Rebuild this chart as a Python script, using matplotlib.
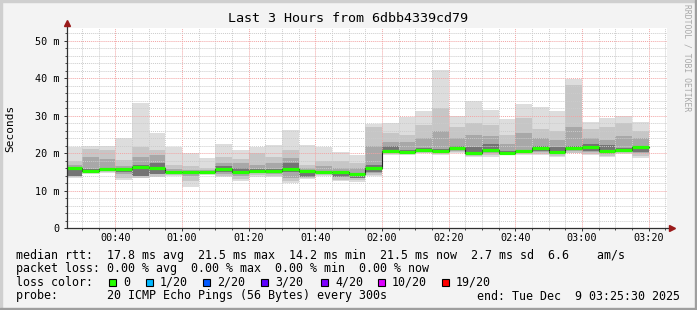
import numpy as np
import matplotlib
matplotlib.use("Agg")
import matplotlib.pyplot as plt
from matplotlib.patches import Rectangle

"""
SmokePing style latency graph: smoke bands of 20 pings per 5 min step,
median drawn on top in loss colour.
"""

W, H = 697, 310
MONO = "DejaVu Sans Mono"

# time axis, seconds since midnight
t_start_s = 25 * 60 + 30            # 00:25:30
t_end_s = 3 * 3600 + 25 * 60 + 30   # 03:25:30
step_s = 300
bar_ends_s = 1800 + step_s * np.arange(35)   # 00:30 ... 03:20

# rtt values (ms) read per 5 min step
ping_max = [21.8, 21.9, 21.9, 24.0, 33.5, 25.3, 21.8, 20.0, 18.8, 22.5, 20.9, 21.8,
            22.2, 26.2, 22.2, 21.8, 20.3, 19.5, 27.8, 28.0, 29.8, 31.4, 42.2, 30.0,
            34.0, 31.5, 29.1, 33.1, 32.4, 31.3, 39.8, 28.3, 29.3, 29.9, 28.4]
ping_p90 = [18.0, 21.1, 20.9, 18.2, 21.8, 20.9, 17.0, 16.5, 16.0, 19.1, 18.5, 20.0,
            19.0, 21.0, 17.0, 18.0, 18.0, 17.5, 27.0, 25.5, 25.0, 27.5, 32.2, 27.0,
            28.0, 27.5, 25.0, 29.5, 26.5, 26.0, 38.2, 26.5, 27.0, 28.0, 26.0]
ping_p75 = [16.8, 19.0, 18.5, 16.5, 19.0, 19.5, 15.8, 15.6, 15.5, 17.5, 17.5, 17.0,
            17.5, 18.8, 16.2, 16.5, 16.0, 16.0, 22.0, 23.0, 23.0, 24.0, 26.0, 24.0,
            25.0, 24.5, 22.5, 25.5, 24.0, 23.5, 27.0, 24.0, 23.5, 24.5, 24.0]
ping_p60 = [16.2, 15.8, 16.0, 16.2, 17.0, 17.5, 15.2, 15.4, 15.4, 16.5, 16.0, 15.8,
            15.8, 17.5, 15.6, 15.2, 15.2, 14.6, 17.0, 22.0, 21.0, 21.5, 21.2, 22.0,
            21.8, 22.5, 20.6, 21.0, 22.0, 21.8, 22.0, 22.5, 22.3, 21.5, 22.0]
median = [16.2, 15.4, 15.7, 15.8, 16.4, 16.2, 14.9, 15.1, 15.1, 15.7, 14.9, 15.4,
          15.3, 15.8, 15.4, 14.9, 14.9, 14.4, 16.2, 20.7, 20.4, 20.9, 20.7, 21.3,
          20.2, 20.9, 20.2, 20.6, 21.5, 20.4, 21.3, 21.6, 20.6, 20.9, 21.6]
ping_p40 = [14.0, 15.0, 15.3, 15.0, 14.0, 14.5, 14.6, 14.5, 14.9, 15.0, 14.5, 15.0,
            14.8, 15.0, 13.8, 14.6, 13.8, 13.5, 15.0, 20.3, 20.1, 20.6, 20.4, 20.9,
            20.0, 20.3, 20.0, 20.3, 20.5, 19.9, 20.8, 20.5, 20.2, 20.6, 20.4]
ping_p25 = [14.3, 15.0, 15.2, 14.5, 14.0, 14.5, 14.5, 14.0, 14.7, 14.5, 14.0, 14.7,
            14.5, 13.5, 14.0, 14.5, 13.8, 13.5, 14.8, 20.2, 20.0, 20.5, 20.2, 20.7,
            19.8, 20.0, 19.9, 20.1, 20.3, 19.8, 20.6, 20.3, 19.9, 20.4, 20.0]
ping_p10 = [13.8, 14.8, 14.9, 13.5, 13.5, 13.8, 14.2, 12.5, 14.4, 14.0, 13.2, 14.2,
            14.0, 12.5, 13.4, 14.2, 13.0, 12.8, 14.2, 19.8, 19.7, 20.2, 19.8, 20.4,
            19.4, 19.5, 19.7, 19.8, 19.8, 19.4, 20.2, 19.8, 19.4, 20.0, 19.2]
ping_min = [13.3, 14.6, 14.7, 12.9, 13.3, 13.6, 14.0, 11.1, 14.2, 13.6, 12.7, 13.8,
            13.6, 12.0, 13.1, 14.0, 12.6, 12.4, 13.9, 19.5, 19.5, 20.0, 19.5, 20.2,
            19.1, 19.1, 19.5, 19.5, 19.5, 19.1, 20.0, 19.5, 19.1, 19.8, 18.7]

x_tick_labels = ["00:40", "01:00", "01:20", "01:40", "02:00", "02:20", "02:40", "03:00", "03:20"]
y_ticks = [0, 10, 20, 30, 40, 50]
y_tick_labels = ["0", "10 m", "20 m", "30 m", "40 m", "50 m"]

title = "Last 3 Hours from 6dbb4339cd79"
legend_rtt = "median rtt:  17.8 ms avg  21.5 ms max  14.2 ms min  21.5 ms now  2.7 ms sd  6.6    am/s"
legend_loss = "packet loss: 0.00 % avg  0.00 % max  0.00 % min  0.00 % now"
legend_probe = "probe:       20 ICMP Echo Pings (56 Bytes) every 300s"
legend_end = "end: Tue Dec  9 03:25:30 2025"
loss_labels = ["0", "1/20", "2/20", "3/20", "4/20", "10/20", "19/20"]
loss_colors = ["#26ff00", "#00b8ff", "#0059ff", "#5e00ff", "#7e00ff", "#dd00ff", "#ff0000"]
loss_box_x = [109, 146, 203, 261, 321, 378, 442]

fig = plt.figure(figsize=(W / 100, H / 100), dpi=100, facecolor="#f3f3f3")

# 3d-ish canvas border
bg = fig.add_axes([0, 0, 1, 1])
bg.set_xlim(0, W)
bg.set_ylim(H, 0)
bg.axis("off")
bg.add_patch(Rectangle((0, 0), W, 2, color="#cfcfcf"))
bg.add_patch(Rectangle((0, 0), 2, H, color="#cfcfcf"))
bg.add_patch(Rectangle((0, H - 2), W, 2, color="#9e9e9e"))
bg.add_patch(Rectangle((W - 2, 0), 2, H, color="#9e9e9e"))

ax = fig.add_axes([67 / W, (H - 228.3) / H, 600 / W, 200 / H])
ax.set_facecolor("white")
ax.set_xlim(t_start_s, t_end_s)
ax.set_ylim(0, 200 / 3.75)

starts = np.maximum(bar_ends_s - step_s, t_start_s)
widths = bar_ends_s - starts

# smoke, outer to inner
for lo, hi, col in [(ping_min, ping_max, "#dddddd"),
                    (ping_p10, ping_p90, "#c6c6c6"),
                    (ping_p25, ping_p75, "#a8a8a8"),
                    (ping_p40, ping_p60, "#747474")]:
    lo = np.array(lo)
    hi = np.array(hi)
    ax.bar(starts, hi - lo, bottom=lo, width=widths, align="edge",
           color=col, linewidth=0, zorder=1)

# grid over the smoke
ax.set_xticks(2400 + 1200 * np.arange(len(x_tick_labels)))
ax.set_xticklabels(x_tick_labels)
ax.set_xticks(np.arange(1800, t_end_s, step_s), minor=True)
ax.set_yticks(y_ticks)
ax.set_yticklabels(y_tick_labels)
ax.set_yticks(np.arange(2, 53, 2), minor=True)
ax.grid(True, which="minor", color="#cccccc", linestyle=(0, (1, 1)), linewidth=0.7, zorder=2)
ax.grid(True, which="major", color="#f2a4a4", linestyle=(0, (1, 1)), linewidth=0.7, zorder=2)
ax.set_axisbelow(False)

# median: black step line plus loss coloured band
med = np.array(median)
ax.step(np.append(starts, bar_ends_s[-1]), np.append(med, med[-1]), where="post",
        color="#202020", linewidth=0.8, zorder=3)
ax.hlines(med, starts, bar_ends_s, color=loss_colors[0], linewidth=2.3, zorder=4)

for s in ax.spines.values():
    s.set_visible(False)
ax.plot([0, 0], [0, 1.025], transform=ax.transAxes, color="#303030", lw=0.9, clip_on=False, zorder=5)
ax.plot([0, 1.008], [0, 0], transform=ax.transAxes, color="#303030", lw=0.9, clip_on=False, zorder=5)
ax.plot([0], [1.025], marker="^", ms=4, color="#9a1a1a", transform=ax.transAxes, clip_on=False, zorder=6)
ax.plot([1.008], [0], marker=">", ms=4, color="#9a1a1a", transform=ax.transAxes, clip_on=False, zorder=6)

ax.tick_params(axis="y", which="major", length=2.2, width=0.7, color="#303030", pad=3, labelsize=7.3)
ax.tick_params(axis="x", which="major", length=2.2, width=0.7, color="#303030", pad=1.5, labelsize=7.3)
ax.tick_params(which="minor", length=1.5, width=0.6, color="#303030")
for lab in ax.get_xticklabels() + ax.get_yticklabels():
    lab.set_family(MONO)

fig.text(10 / W, 1 - 128 / H, "Seconds", rotation=90, ha="center", va="center",
         family=MONO, fontsize=8)
fig.text(0.5, 1 - 19 / H, title, ha="center", va="center", family=MONO, fontsize=9.6)
fig.text(687 / W, 1 - 58 / H, "RRDTOOL / TOBI OETIKER", rotation=270, ha="center",
         va="center", family=MONO, fontsize=5.8, color="#a8a8a8")

# legend block
fs = 8.4
bg.text(16, 255, legend_rtt, family=MONO, fontsize=fs, va="center")
bg.text(16, 268.3, legend_loss, family=MONO, fontsize=fs, va="center")
bg.text(16, 282.3, "loss color:", family=MONO, fontsize=fs, va="center")
for bx, lab, col in zip(loss_box_x, loss_labels, loss_colors):
    bg.add_patch(Rectangle((bx, 278.5), 7, 7, facecolor=col, edgecolor="black", linewidth=0.8))
    bg.text(bx + 14, 282.3, lab, family=MONO, fontsize=fs, va="center")
bg.text(16, 296, legend_probe, family=MONO, fontsize=fs, va="center")
bg.text(680, 296, legend_end, family=MONO, fontsize=fs, va="center", ha="right")

fig.savefig("out.png", dpi=100, facecolor=fig.get_facecolor())
